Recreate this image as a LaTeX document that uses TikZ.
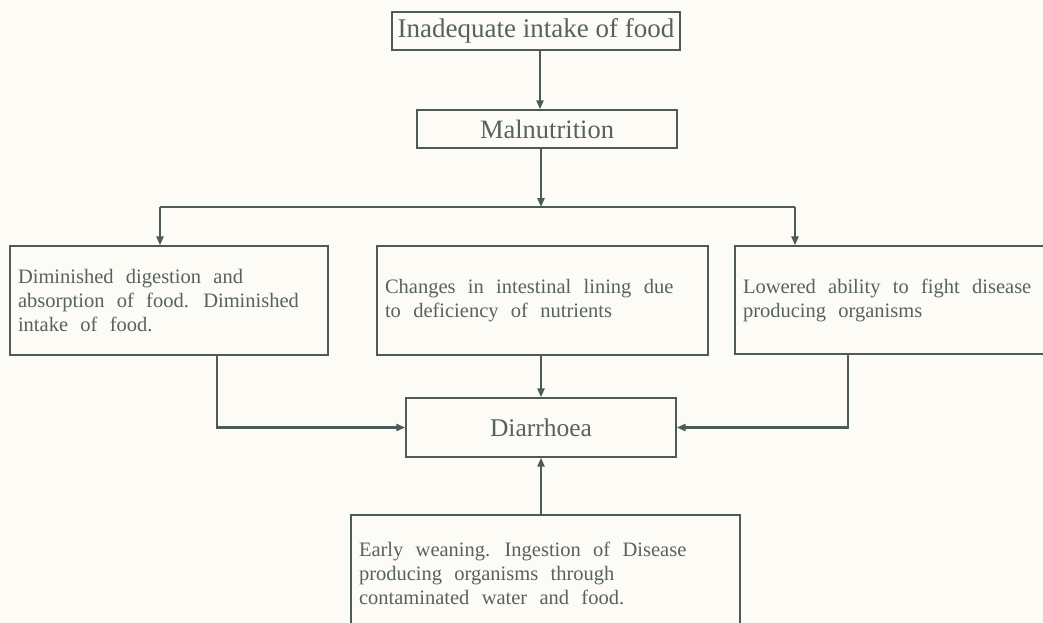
\documentclass[tikz,border=0pt]{standalone}
\usepackage{fontspec}
\setmainfont{Liberation Serif}
\usetikzlibrary{arrows.meta}
\definecolor{inkgrey}{HTML}{4D5B58}
\definecolor{textgrey}{HTML}{56625F}
\definecolor{paper}{HTML}{FCFBF5}
\newcommand\widespace{\spaceskip=0.6em\relax\xspaceskip=0.7em\relax}

\begin{document}
\begin{tikzpicture}[x=1pt,y=-1pt,
  box/.style={draw=inkgrey,line width=1.3pt,inner sep=0pt,text=textgrey},
  bigbox/.style={box,font=\fontsize{#1}{28}\selectfont},
  textbox/.style={box,font=\fontsize{20.5}{24}\selectfont,align=left,inner xsep=8pt,
    execute at begin node=\widespace},
  link/.style={draw=inkgrey,line width=2.4pt},
  flow/.style={link,-{Triangle[length=9pt,width=7pt]}}]
            \clip (0,0) rectangle (1043,623);
            \fill[paper] (0,0) rectangle (1043,623);
            % boxes
            \node (food) at (536,31) [bigbox=27,minimum width=288,minimum height=38] {Inadequate intake of food};
            \node (maln) at (547,129) [bigbox=26.5,minimum width=260,minimum height=38] {Malnutrition};
            \node (dimin) at (169,300.5) [textbox,text width=302,minimum height=109] {Diminished digestion and\\absorption of food. Diminished\\intake of food.};
            \node (chan) at (542.5,300.5) [textbox,text width=315,minimum height=109] {Changes in intestinal lining due\\to deficiency of nutrients};
            \node (lower) at (897.5,300) [textbox,text width=309,minimum height=108] {Lowered ability to fight disease\\producing organisms};
            \node (diar) at (541,427.5) [bigbox=25.5,minimum width=270,minimum height=59] {Diarrhoea};
            \node (early) at (545.5,573) [textbox,text width=373,minimum height=116] {Early weaning. Ingestion of Disease\\producing organisms through\\contaminated water and food.};
            % connectors
            \coordinate (split) at (541,207);
            \coordinate (lt) at (160,207);
            \coordinate (rt) at (795,207);
            \coordinate (ld) at (217,427);
            \coordinate (rd) at (848,427);
            \draw[flow] ([xshift=4pt]food.south) -- ([xshift=4pt]food.south |- maln.north);
            \draw[flow] (maln.south -| split) -- (split);
            \draw[link] (lt) -- (rt);
            \draw[flow] (lt) -- (lt |- dimin.north);
            \draw[flow] (rt) -- (rt |- lower.north);
            \draw[flow] (ld |- dimin.south) |- (diar.west);
            \draw[flow] (chan.south -| diar.north) -- (diar.north);
            \draw[flow] (rd |- lower.south) |- (diar.east);
            \draw[flow] (early.north -| diar.south) -- (diar.south);
        \end{tikzpicture}
\end{document}
